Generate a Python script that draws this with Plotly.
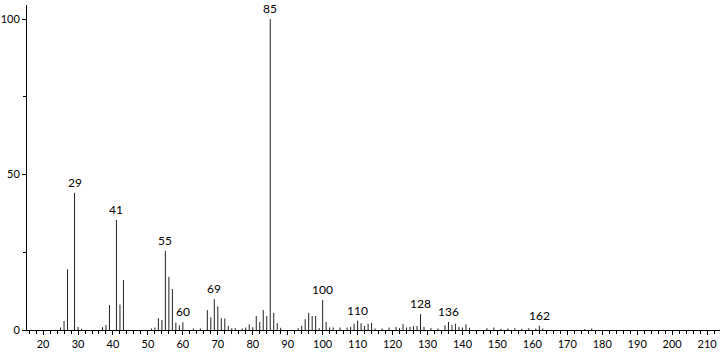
import plotly.graph_objects as go

mz = [25, 26, 27, 29, 30, 31, 37, 38, 39, 41, 42, 43, 51, 52, 53, 54, 55, 56, 57, 58, 59, 60,
      63, 65, 67, 68, 69, 70, 71, 72, 73, 74, 75, 77, 78, 79, 80, 81, 82, 83, 84, 85, 86, 87, 88,
      93, 94, 95, 96, 97, 98, 99, 100, 101, 102, 103, 105, 107, 108, 109, 110, 111, 112, 113, 114,
      115, 117, 119, 121, 122, 123, 124, 125, 126, 127, 128, 129, 131, 133, 135, 136, 137, 138,
      139, 140, 141, 142, 147, 149, 151, 153, 155, 157, 159, 161, 162, 163, 175, 177]
intensity = [0.8, 2.9, 19.5, 44.1, 1.0, 0.4, 0.9, 1.6, 8.0, 35.4, 8.2, 16.1, 0.5, 0.8, 3.8, 3.2, 25.5, 17.1, 13.2, 2.4, 1.5, 2.5,
             0.5, 0.5, 6.4, 4.1, 9.9, 7.6, 3.8, 3.7, 1.3, 0.6, 0.6, 0.5, 0.8, 1.8, 0.9, 4.5, 2.6, 6.4, 4.5, 100, 5.5, 2.2, 0.7,
             0.6, 1.4, 3.5, 5.5, 4.5, 4.5, 0.6, 9.6, 2.6, 0.8, 0.8, 0.8, 0.8, 1.0, 2.0, 3.0, 2.2, 1.3, 2.0, 2.3,
             0.5, 0.5, 0.8, 1.0, 0.6, 1.9, 0.8, 1.0, 1.2, 1.3, 5.1, 1.0, 0.6, 0.5, 1.5, 2.6, 1.6, 2.0,
             1.0, 0.8, 1.8, 0.7, 0.6, 0.8, 0.4, 0.5, 0.6, 0.4, 0.6, 0.5, 1.4, 0.5, 0.3, 0.5]
labelled = [29, 41, 55, 60, 69, 85, 100, 110, 128, 136, 162]
x_ticks = list(range(20, 211, 10))
y_ticks = [0, 50, 100]

xs, ys = [], []
for m, i in zip(mz, intensity):
    xs += [m, m, None]
    ys += [0, i, None]

fig = go.Figure(go.Scatter(x=xs, y=ys, mode="lines", line=dict(color="#222222", width=1),
                           hoverinfo="skip", showlegend=False))

lookup = dict(zip(mz, intensity))
for m in labelled:
    fig.add_annotation(x=m, y=lookup[m], text=str(m), showarrow=False,
                       yanchor="bottom", yshift=1, font=dict(size=12, color="black"))

fig.update_layout(
    width=723, height=352, margin=dict(l=27, r=3, t=5, b=22),
    plot_bgcolor="white", paper_bgcolor="white",
    font=dict(family="Lato", size=12, color="black"),
    xaxis=dict(range=[15.4, 213.7], tickvals=x_ticks, ticks="outside", ticklen=4,
               tickcolor="black", showline=True, linecolor="black", linewidth=1,
               showgrid=False, zeroline=False, automargin=False,
               tickfont=dict(size=11),
               minor=dict(dtick=2, tick0=0, ticks="outside", ticklen=3, tickcolor="black", showgrid=False)),
    yaxis=dict(range=[0, 104.5], tickvals=y_ticks, ticks="outside", ticklen=4,
               tickcolor="black", showline=True, linecolor="black", linewidth=1,
               showgrid=False, zeroline=False, automargin=False,
               tickfont=dict(size=11),
               minor=dict(tickvals=[25, 75], ticks="outside", ticklen=3, tickcolor="black", showgrid=False)),
)
fig.write_html("out.html")
